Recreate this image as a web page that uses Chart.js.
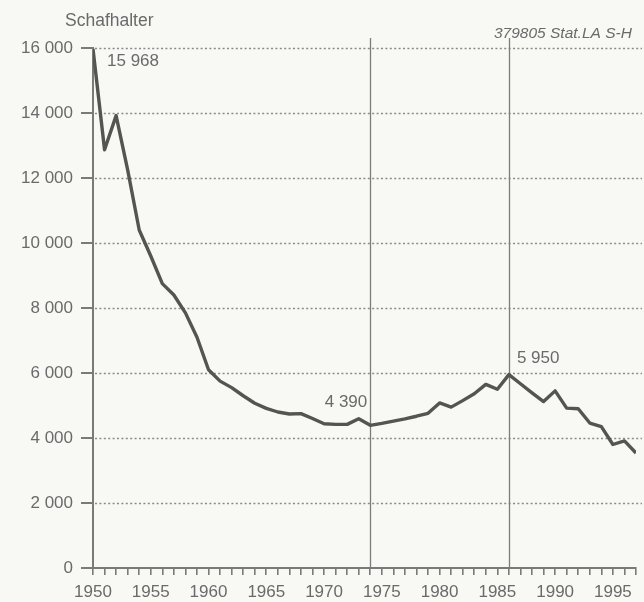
<!DOCTYPE html>
<html>
<head>
<meta charset="utf-8">
<script src="https://cdn.jsdelivr.net/npm/chart.js@4/dist/chart.umd.min.js"></script>
<style>
  html, body { margin: 0; padding: 0; background: #f8f8f5; }
  #wrap { width: 644px; height: 602px; }
</style>
</head>
<body>
<div id="wrap"><canvas id="c" width="644" height="602"></canvas></div>
<script>
// ---- data ----
const years = [1950,1951,1952,1953,1954,1955,1956,1957,1958,1959,
               1960,1961,1962,1963,1964,1965,1966,1967,1968,1969,
               1970,1971,1972,1973,1974,1975,1976,1977,1978,1979,
               1980,1981,1982,1983,1984,1985,1986,1987,1988,1989,
               1990,1991,1992,1993,1994,1995,1996,1997];
const schafhalter = [15968,12870,13920,12250,10400,9600,8750,8400,7850,7100,
                     6100,5750,5550,5300,5070,4910,4800,4740,4750,4600,
                     4440,4420,4420,4590,4390,4450,4520,4590,4670,4760,
                     5080,4950,5150,5360,5650,5500,5950,5670,5390,5120,
                     5450,4920,4900,4460,4350,3800,3910,3540];
const yTicks = [0,2000,4000,6000,8000,10000,12000,14000,16000];
const xLabelYears = [1950,1955,1960,1965,1970,1975,1980,1985,1990,1995];
const markerYears = [1974,1986];
const annotations = [
  {year: 1950, value: 15968, text: '15 968'},
  {year: 1974, value: 4390, text: '4 390'},
  {year: 1986, value: 5950, text: '5 950'}
];
const titleText = 'Schafhalter';
const sourceText = '379805 Stat.LA S-H';

// ---- styling ----
const FONT = '"Liberation Sans", Arial, Helvetica, sans-serif';
const TXT = '#6a6a6a';
const AXIS = '#7a7a7a';
const fmt = v => {
  const s = String(Math.round(v));
  return s.replace(/\B(?=(\d{3})+(?!\d))/g, ' ');
};

const decor = {
  id: 'decor',
  beforeDraw(chart) {
    const ctx = chart.ctx;
    ctx.save();
    ctx.fillStyle = '#f8f8f5';
    ctx.fillRect(0, 0, chart.width, chart.height);
    ctx.restore();
  },
  beforeDatasetsDraw(chart) {
    const ctx = chart.ctx;
    const xs = chart.scales.x, ys = chart.scales.y;
    const area = chart.chartArea;
    ctx.save();
    // dotted horizontal grid lines
    ctx.strokeStyle = '#8a8a8a';
    ctx.lineWidth = 1.5;
    ctx.setLineDash([2, 2.4]);
    yTicks.forEach(v => {
      if (v === 0) return;
      const y = Math.round(ys.getPixelForValue(v)) + 0.5;
      ctx.beginPath();
      ctx.moveTo(area.left + 2, y);
      ctx.lineTo(642, y);
      ctx.stroke();
    });
    // vertical marker lines
    ctx.setLineDash([]);
    ctx.strokeStyle = '#7c7c7c';
    ctx.lineWidth = 1.3;
    markerYears.forEach(yr => {
      const x = Math.round(xs.getPixelForValue(yr)) + 0.5;
      ctx.beginPath();
      ctx.moveTo(x, 38);
      ctx.lineTo(x, area.bottom);
      ctx.stroke();
    });
    ctx.restore();
  },
  afterDraw(chart) {
    const ctx = chart.ctx;
    const xs = chart.scales.x, ys = chart.scales.y;
    ctx.save();
    ctx.fillStyle = TXT;
    ctx.textBaseline = 'middle';
    ctx.font = '17.5px ' + FONT;
    ctx.textAlign = 'left';
    ctx.fillText(titleText, 65, 21);
    // annotations
    ctx.font = '17px ' + FONT;
    const a0 = annotations[0];
    ctx.fillText(a0.text, xs.getPixelForValue(a0.year) + 14, ys.getPixelForValue(a0.value) + 12);
    const a1 = annotations[1];
    ctx.textAlign = 'right';
    ctx.fillText(a1.text, xs.getPixelForValue(a1.year) - 3, ys.getPixelForValue(a1.value) - 23);
    const a2 = annotations[2];
    ctx.textAlign = 'left';
    ctx.fillText(a2.text, xs.getPixelForValue(a2.year) + 8, ys.getPixelForValue(a2.value) - 16);
    // source
    ctx.font = 'italic 15.5px ' + FONT;
    ctx.textAlign = 'left';
    ctx.fillText(sourceText, 494, 34);
    ctx.restore();
  }
};

new Chart(document.getElementById('c'), {
  type: 'line',
  data: {
    datasets: [{
      data: years.map((y, i) => ({x: y, y: schafhalter[i]})),
      borderColor: '#545450',
      borderWidth: 3.4,
      pointRadius: 0,
      tension: 0,
      fill: false,
      borderJoinStyle: 'round'
    }]
  },
  options: {
    responsive: false,
    animation: false,
    devicePixelRatio: 1,
    layout: { padding: { top: 48, right: 8, left: 0, bottom: 0 } },
    plugins: { legend: { display: false }, tooltip: { enabled: false }, title: { display: false } },
    scales: {
      x: {
        type: 'linear',
        min: years[0],
        max: years[years.length - 1],
        afterBuildTicks(scale) { scale.ticks = years.map(v => ({value: v})); },
        ticks: {
          autoSkip: false,
          maxRotation: 0,
          padding: 7,
          color: TXT,
          font: { family: FONT, size: 17 },
          callback: v => xLabelYears.includes(v) ? String(v) : ''
        },
        grid: { drawOnChartArea: false, drawTicks: true, tickLength: 7, color: AXIS, lineWidth: 1.6 },
        border: { display: true, color: AXIS, width: 2 },
        afterFit(scale) { scale.height = 34; }
      },
      y: {
        min: 0,
        max: 16000,
        afterBuildTicks(scale) { scale.ticks = yTicks.map(v => ({value: v})); },
        ticks: {
          padding: 8,
          color: TXT,
          font: { family: FONT, size: 17 },
          callback: v => fmt(v)
        },
        grid: { drawOnChartArea: false, drawTicks: true, tickLength: 12, color: AXIS, lineWidth: 2 },
        border: { display: true, color: AXIS, width: 2 },
        afterFit(scale) { scale.width = 93; }
      }
    }
  },
  plugins: [decor]
});
</script>
</body>
</html>
